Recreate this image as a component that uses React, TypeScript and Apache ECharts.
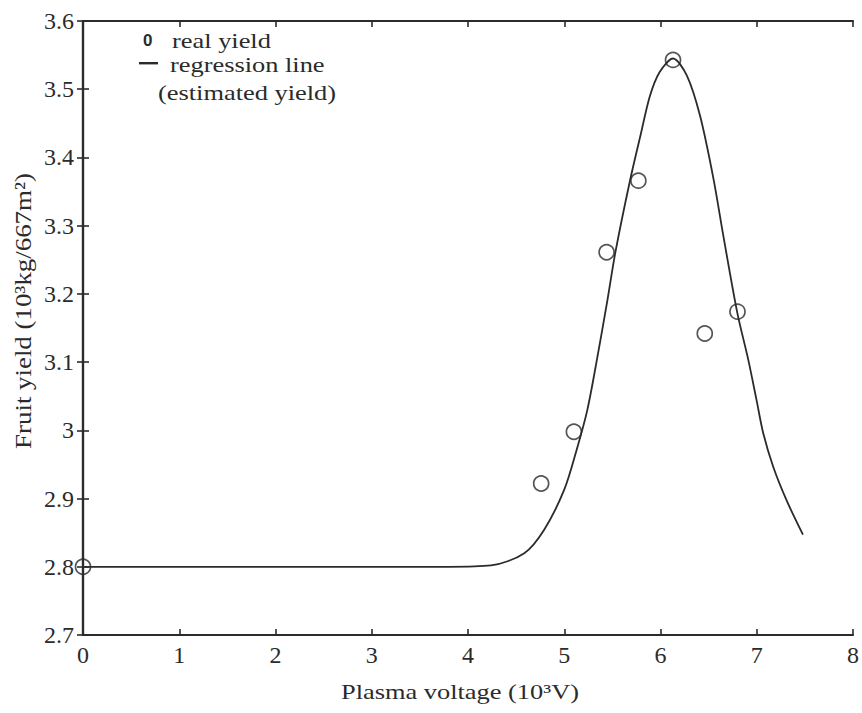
import React, { useEffect, useRef } from "react";
import * as echarts from "echarts";

const realX = [0, 4.76, 5.1, 5.44, 5.77, 6.13, 6.46, 6.8];
const realY = [2.8, 2.922, 2.998, 3.261, 3.366, 3.543, 3.142, 3.174];

const curveX = [0, 1, 2, 3, 3.8, 4.24, 4.585, 4.79, 5.0, 5.13, 5.24, 5.34, 5.45, 5.53, 5.68, 5.79, 5.89, 5.99, 6.13, 6.274, 6.411, 6.55, 6.653, 6.797, 6.911, 6.997, 7.067, 7.17, 7.308, 7.48];
const curveY = [2.8, 2.8, 2.8, 2.8, 2.8, 2.802, 2.82, 2.854, 2.913, 2.972, 3.03, 3.104, 3.192, 3.26, 3.364, 3.431, 3.49, 3.525, 3.545, 3.52, 3.461, 3.369, 3.285, 3.173, 3.104, 3.045, 2.996, 2.947, 2.898, 2.847];

const xTicks = [0, 1, 2, 3, 4, 5, 6, 7, 8];

const xName = "Plasma voltage (10³V)";
const yName = "Fruit yield (10³kg/667m²)";
const legendSymbol = "0";
const legendLabels = ["real yield", "regression line", "(estimated yield)"];

const FONT = "Liberation Serif";
const INK = "#2b2b2b";

export default function App() {
  const ref = useRef<HTMLDivElement>(null);
  useEffect(() => {
    const chart = echarts.init(ref.current!, null, { renderer: "svg" });
    const axisLine = { show: true, lineStyle: { color: INK, width: 2.2 } };
    const tick = { show: true, inside: true, length: 6, lineStyle: { color: INK, width: 1.6 } };
    const stretch = 1.2;
    chart.setOption({
      animation: false,
      backgroundColor: "#fff",
      grid: { left: 83, right: 5, top: 21, bottom: 78, containLabel: false },
      xAxis: [
        {
          type: "value", min: 0, max: 8, interval: 1, position: "bottom",
          axisLine, axisTick: tick, splitLine: { show: false },
          axisLabel: { color: INK, fontFamily: FONT, fontSize: 24, margin: 8, formatter: (v: number) => (xTicks.includes(v) ? String(v) : "") },
        },
        {
          type: "value", min: 0, max: 8, interval: 1, position: "top",
          axisLine, axisTick: tick, axisLabel: { show: false }, splitLine: { show: false },
        },
      ],
      yAxis: [
        {
          type: "value", min: 2.7, max: 3.6, interval: 0.1, position: "left",
          axisLine, axisTick: tick, splitLine: { show: false },
          axisLabel: { color: INK, fontFamily: FONT, fontSize: 24, margin: 9, formatter: (v: number) => String(Math.round(v * 10) / 10) },
        },
        {
          type: "value", min: 2.7, max: 3.6, interval: 0.1, position: "right",
          axisLine, axisTick: tick, axisLabel: { show: false }, splitLine: { show: false },
        },
      ],
      series: [
        {
          type: "line", name: "regression line",
          data: curveX.map((x, i) => [x, curveY[i]]),
          smooth: 0.3, symbol: "none",
          lineStyle: { color: INK, width: 1.8 },
        },
        {
          type: "scatter", name: "real yield",
          data: realX.map((x, i) => [x, realY[i]]),
          symbol: "circle", symbolSize: 15,
          itemStyle: { color: "rgba(255,255,255,0)", borderColor: INK, borderWidth: 1.7 },
          z: 5,
        },
      ],
      graphic: [
        { type: "text", x: 143, y: 40, style: { text: legendSymbol, font: `bold 17px Liberation Sans`, fill: INK, verticalAlign: "middle" } },
        { type: "text", x: 172, y: 40, scaleX: stretch, style: { text: legendLabels[0], font: `22px ${FONT}`, fill: INK, verticalAlign: "middle" } },
        { type: "rect", shape: { x: 139, y: 62, width: 19, height: 2.4 }, style: { fill: INK } },
        { type: "text", x: 170, y: 64, scaleX: stretch, style: { text: legendLabels[1], font: `22px ${FONT}`, fill: INK, verticalAlign: "middle" } },
        { type: "text", x: 158, y: 92, scaleX: stretch, style: { text: legendLabels[2], font: `22px ${FONT}`, fill: INK, verticalAlign: "middle" } },
        { type: "text", x: 460, y: 691, scaleX: stretch, style: { text: xName, font: `22px ${FONT}`, fill: INK, align: "center", verticalAlign: "middle" } },
        { type: "text", x: 23, y: 311, rotation: Math.PI / 2, scaleX: 1.12, style: { text: yName, font: `24px ${FONT}`, fill: INK, align: "center", verticalAlign: "middle" } },
      ],
    });
    return () => chart.dispose();
  }, []);
  return <div ref={ref} style={{ width: 862, height: 713, position: "absolute", left: 0, top: 0 }} />;
}
